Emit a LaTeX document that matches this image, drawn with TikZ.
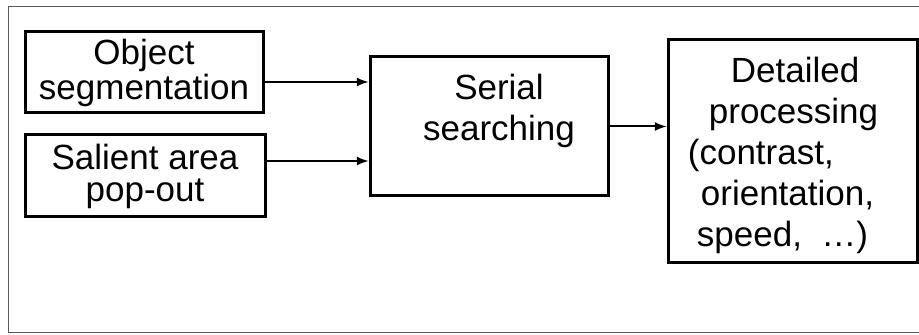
\documentclass[tikz,border=0pt]{standalone}
\usepackage{fontspec}
\setmainfont{Liberation Sans}
\usetikzlibrary{calc}
\tikzset{
  blockbox/.style={draw, line width=1.5pt, inner sep=0pt, align=center,
    font=\fontsize{17.5}{17.5}\selectfont},
  wordtext/.style={inner sep=0pt, font=\fontsize{17.5}{20.5}\selectfont},
  arr/.style={thick, ->, line width=1pt}
}
\begin{document}
\begin{tikzpicture}[>=latex, x=0.5pt, y=-0.5pt]
\useasboundingbox (0,0) rectangle (919,335);
\begin{scope}
\clip (0,0) rectangle (919,335);
\draw[gray!70!black, line width=0.5pt] (8,7) rectangle (940,333);
\end{scope}
% input boxes
\node[blockbox, minimum width=119pt, minimum height=40.5pt] (obj) at (144,72.5) {Object\\segmentation};
\node[blockbox, minimum width=120pt, minimum height=41pt,
  font=\fontsize{17.5}{16}\selectfont] (sal) at (145,176) {Salient area\\pop-out};
% middle and output boxes
\node[blockbox, minimum width=119pt, minimum height=69.5pt] (serial) at (489,126.5) {};
\node[wordtext, align=center] (serialtxt) at (499,111) {Serial\\searching};
\node[blockbox, minimum width=124.5pt, minimum height=111.5pt] (det) at (792.5,151.5) {};
\node[wordtext, align=left, anchor=west] (dettxt) at ([xshift=10.5pt, yshift=-2pt]det.west) {%
\hspace*{21.5pt}Detailed\\
\hspace*{10.5pt}processing\\
(contrast,\\
\hspace*{6.5pt}orientation,\\
\hspace*{4.5pt}speed,~~\ldots)};
% connectors
\draw[arr] ([yshift=-4.75pt]obj.east) -- ([yshift=-4.75pt]obj.east -| serial.west);
\draw[arr] ([yshift=7.5pt]sal.east) -- ([yshift=7.5pt]sal.east -| serial.west);
\draw[arr] (serial.east) -- (serial.east -| det.west);
\end{tikzpicture}
\end{document}
